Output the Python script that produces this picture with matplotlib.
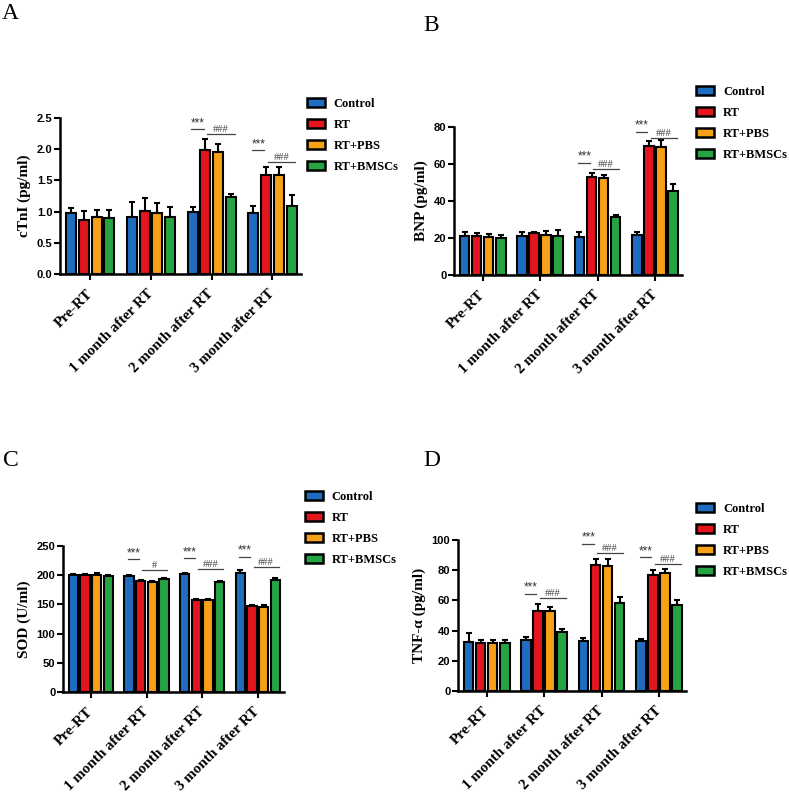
import numpy as np
import matplotlib.pyplot as plt
from matplotlib.patches import Patch

# groups / series
groups = ["Pre-RT", "1 month after RT", "2 month after RT", "3 month after RT"]
series = ["Control", "RT", "RT+PBS", "RT+BMSCs"]
colors = ["#1f6dc1", "#e3151f", "#f6a118", "#27a442"]

# rows = series, cols = groups
ctni_mean = [[0.97, 0.92, 0.99, 0.97],
             [0.87, 1.01, 1.98, 1.58],
             [0.91, 0.97, 1.95, 1.58],
             [0.89, 0.91, 1.24, 1.09]]
ctni_err = [[0.09, 0.23, 0.08, 0.12],
            [0.14, 0.20, 0.18, 0.14],
            [0.12, 0.16, 0.14, 0.14],
            [0.13, 0.17, 0.04, 0.17]]

bnp_mean = [[21.3, 21.0, 20.5, 21.5],
            [21.2, 22.5, 52.8, 69.8],
            [20.8, 21.5, 52.3, 69.1],
            [20.2, 21.0, 31.2, 45.3]]
bnp_err = [[2.0, 2.0, 2.5, 1.5],
           [1.3, 0.8, 2.4, 2.4],
           [1.5, 2.5, 1.8, 3.8],
           [1.5, 3.5, 1.5, 3.8]]

sod_mean = [[200, 199, 202, 204],
            [200, 190, 157, 147],
            [200, 189, 157, 146],
            [198, 194, 188, 192]]
sod_err = [[1.5, 1.5, 1.5, 5.0],
           [2.0, 2.0, 3.0, 2.5],
           [3.0, 1.5, 2.0, 3.0],
           [1.5, 2.0, 2.0, 2.5]]

tnf_mean = [[32.3, 33.6, 33.4, 32.8],
            [32.0, 52.8, 83.4, 76.8],
            [32.0, 53.0, 82.5, 77.9],
            [31.8, 39.2, 58.1, 57.0]]
tnf_err = [[6.0, 2.0, 2.0, 1.7],
           [1.5, 4.6, 3.8, 3.3],
           [2.0, 2.9, 5.0, 2.9],
           [2.0, 2.1, 4.0, 3.1]]

# significance marks: (group, star text, star line y, hash text, hash line y)
ctni_sig = [(2, "***", 2.32, "###", 2.24), (3, "***", 1.98, "###", 1.80)]
bnp_sig = [(2, "***", 60.8, "###", 57.3), (3, "***", 77.5, "###", 74.3)]
sod_sig = [(1, "***", 227, "#", 209), (2, "***", 229, "###", 211), (3, "***", 232, "###", 214.6)]
tnf_sig = [(1, "***", 64.5, "###", 61.3), (2, "***", 97.6, "###", 91.2), (3, "***", 88.7, "###", 84.1)]

W, H = 789, 795
fig = plt.figure(figsize=(W / 100, H / 100), dpi=100)

serif = "Liberation Serif"
sans = "Liberation Sans"
pitch = 0.21
bw = 0.165


def px_axes(l, t, r, b):
    return fig.add_axes([l / W, 1 - b / H, (r - l) / W, (b - t) / H])


def panel(box, mean, err, sig, ylim, step, ylabel, leg_pos, letter, letter_pos):
    ax = px_axes(*box)
    x = np.arange(len(groups))
    for i, s in enumerate(series):
        xs = x + (i - 1.5) * pitch
        m = np.array(mean[i], dtype=float)
        e = np.array(err[i], dtype=float)
        ax.errorbar(xs, m, yerr=[np.zeros_like(e), e], fmt="none", ecolor="black",
                    elinewidth=1.5, capsize=2.5, capthick=1.5, zorder=2)
        ax.bar(xs, m, width=bw, color=colors[i], edgecolor="black", linewidth=1.5, zorder=3)
    for g, st, sy, ht, hy in sig:
        c = g + (np.arange(4) - 1.5) * pitch
        ax.plot([c[0] - 0.02, c[1] - 0.03], [sy, sy], color="#444444", lw=0.9, clip_on=False)
        ax.text((c[0] + c[1]) / 2 - 0.02, sy, st, ha="center", va="bottom", fontsize=8.5,
                color="#333333", family=sans)
        ax.plot([c[1] + 0.03, c[3] + 0.06], [hy, hy], color="#444444", lw=0.9, clip_on=False)
        ax.text((c[1] + c[3]) / 2 + 0.04, hy, ht, ha="center", va="bottom", fontsize=7.5,
                color="#444444", family=serif)
    ax.set_xlim(-0.5, 3.47)
    ax.set_ylim(*ylim)
    ax.set_yticks(np.arange(ylim[0], ylim[1] + step / 2, step))
    if step < 1:
        ax.set_yticklabels([f"{v:.1f}" for v in ax.get_yticks()])
    ax.set_xticks(x)
    ax.set_xticklabels(groups, rotation=45, ha="right", va="center", rotation_mode="anchor",
                       family=serif, fontweight="bold", fontsize=10.8)
    for lab in ax.get_yticklabels():
        lab.set_family(sans)
        lab.set_fontweight("bold")
        lab.set_fontsize(8)
    ax.tick_params(axis="x", length=4, width=1.5, pad=9)
    ax.tick_params(axis="y", length=4, width=1.5, pad=1.5)
    for sp in ["top", "right"]:
        ax.spines[sp].set_visible(False)
    for sp in ["left", "bottom"]:
        ax.spines[sp].set_linewidth(1.8)
    ax.set_ylabel(ylabel, family=serif, fontweight="bold", fontsize=11, labelpad=4)

    handles = [Patch(facecolor=colors[i], edgecolor="black", linewidth=1.8) for i in range(4)]
    fig.legend(handles, series, loc="upper left",
               bbox_to_anchor=(leg_pos[0] / W, 1 - leg_pos[1] / H),
               bbox_transform=fig.transFigure, frameon=False, borderpad=0, borderaxespad=0,
               handlelength=1.4, handleheight=0.75, handletextpad=0.75, labelspacing=0.72,
               prop={"family": serif, "weight": "bold", "size": 9})
    fig.text(letter_pos[0] / W, 1 - letter_pos[1] / H, letter, family=serif, fontsize=17,
             ha="left", va="top")
    return ax


panel((60, 118, 301, 274), ctni_mean, ctni_err, ctni_sig, (0, 2.5), 0.5,
      "cTnI (pg/ml)", (307, 98), "A", (2, 3))
panel((454, 127, 682, 275), bnp_mean, bnp_err, bnp_sig, (0, 80), 20,
      "BNP (pg/ml)", (696, 86), "B", (423, 15))
panel((63, 546, 284, 692), sod_mean, sod_err, sod_sig, (0, 250), 50,
      "SOD (U/ml)", (305, 491), "C", (3, 450))
panel((458, 540, 686, 691), tnf_mean, tnf_err, tnf_sig, (0, 100), 20,
      "TNF-\u03b1 (pg/ml)", (696, 503), "D", (423, 450))

fig.savefig("out.png", dpi=100)
